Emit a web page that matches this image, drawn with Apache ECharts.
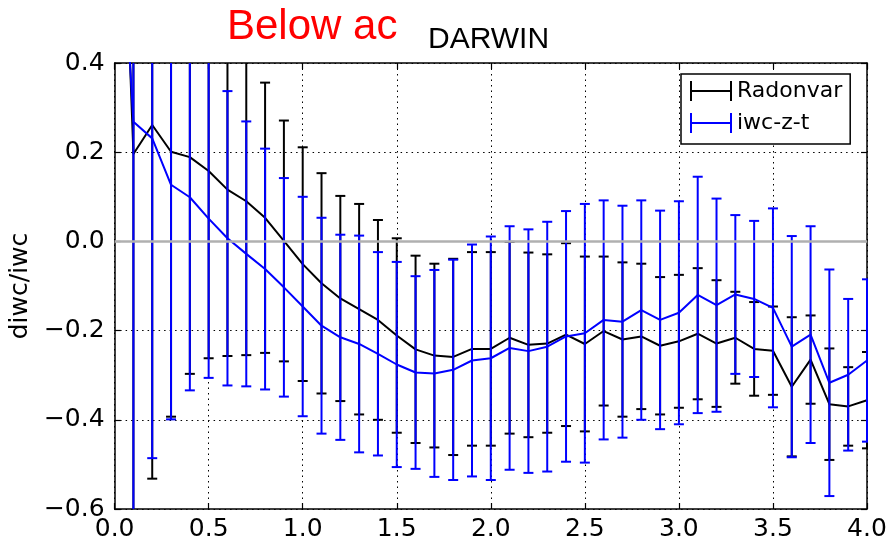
<!DOCTYPE html>
<html>
<head>
<meta charset="utf-8">
<script src="https://cdn.jsdelivr.net/npm/echarts@6/dist/echarts.min.js"></script>
<style>
  html, body { margin: 0; padding: 0; background: #fff; }
  #chart { width: 891px; height: 542px; }
</style>
</head>
<body>
<div id="chart"></div>
<script>
// x positions (first one at 0 sits far above the plot)
var xs = [0, 0.1, 0.2, 0.3, 0.4, 0.5, 0.6, 0.7, 0.8, 0.9, 1.0,
          1.1, 1.2, 1.3, 1.4, 1.5, 1.6, 1.7, 1.8, 1.9, 2.0,
          2.1, 2.2, 2.3, 2.4, 2.5, 2.6, 2.7, 2.8, 2.9, 3.0,
          3.1, 3.2, 3.3, 3.4, 3.5, 3.6, 3.7, 3.8, 3.9, 4.0];

var radonvar = [1.33, 0.196, 0.261, 0.201, 0.189, 0.158, 0.116, 0.090, 0.053, 0.001, -0.051,
                -0.094, -0.128, -0.152, -0.176, -0.211, -0.242, -0.256, -0.259, -0.241, -0.241,
                -0.216, -0.232, -0.229, -0.209, -0.230, -0.201, -0.220, -0.213, -0.234, -0.224,
                -0.207, -0.229, -0.216, -0.241, -0.245, -0.326, -0.265, -0.365, -0.370, -0.356];
var radonvarErr = [null, 0.9, 0.793, 0.594, 0.486, 0.42, 0.373, 0.345, 0.303, 0.27, 0.262,
                   0.247, 0.23, 0.236, 0.224, 0.218, 0.21, 0.206, 0.22, 0.217, 0.217,
                   0.215, 0.207, 0.2, 0.205, 0.196, 0.167, 0.173, 0.163, 0.154, 0.149,
                   0.147, 0.142, 0.103, 0.105, 0.099, 0.156, 0.099, 0.125, 0.088, 0.108];

var iwc = [1.0, 0.268, 0.231, 0.127, 0.099, 0.051, 0.007, -0.028, -0.062, -0.103, -0.146,
           -0.189, -0.215, -0.230, -0.252, -0.276, -0.294, -0.296, -0.288, -0.267, -0.262,
           -0.239, -0.246, -0.236, -0.213, -0.206, -0.176, -0.180, -0.154, -0.176, -0.160,
           -0.120, -0.143, -0.119, -0.129, -0.149, -0.236, -0.209, -0.317, -0.299, -0.267];
var iwcErr = [null, 1.0, 0.717, 0.526, 0.433, 0.357, 0.33, 0.297, 0.27, 0.245, 0.246,
              0.242, 0.23, 0.243, 0.228, 0.23, 0.216, 0.232, 0.247, 0.26, 0.273,
              0.273, 0.273, 0.28, 0.281, 0.29, 0.268, 0.26, 0.246, 0.245, 0.25,
              0.265, 0.239, 0.178, 0.175, 0.223, 0.248, 0.243, 0.254, 0.17, 0.182];

var xTicks = ['0.0', '0.5', '1.0', '1.5', '2.0', '2.5', '3.0', '3.5', '4.0'];

var TICK_FONT = 'DejaVu Sans';

function pairs(vals) {
  return xs.map(function (x, i) { return [x, vals[i]]; });
}
function errRows(vals, errs) {
  var out = [];
  xs.forEach(function (x, i) {
    if (errs[i] == null) return;
    out.push([x, vals[i] - errs[i], vals[i] + errs[i]]);
  });
  return out;
}

// vertical bar + two caps
function errorBar(color) {
  return function (params, api) {
    var lo = api.coord([api.value(0), api.value(1)]);
    var hi = api.coord([api.value(0), api.value(2)]);
    var hw = 5;
    var st = { stroke: color, lineWidth: 2 };
    return {
      type: 'group',
      children: [
        { type: 'line', shape: { x1: lo[0], y1: lo[1], x2: hi[0], y2: hi[1] }, style: st },
        { type: 'line', shape: { x1: lo[0] - hw, y1: lo[1], x2: lo[0] + hw, y2: lo[1] }, style: st },
        { type: 'line', shape: { x1: hi[0] - hw, y1: hi[1], x2: hi[0] + hw, y2: hi[1] }, style: st }
      ]
    };
  };
}

function yFmt(v) {
  var s = Math.abs(v) < 1e-9 ? '0.0' : v.toFixed(1);
  return s.replace('-', '\u2212');
}
function xFmt(v) {
  return xTicks[Math.round(v / 0.5)];
}

var frameLine = { show: true, onZero: false, lineStyle: { color: '#000', width: 1.5 } };
var innerTick = { show: true, inside: true, length: 6, lineStyle: { color: '#000', width: 1.2 } };
var dotted = { show: true, lineStyle: { color: '#000', width: 1, type: [1.5, 4] } };

var H_ICON = 'path://M0,0h2v20h-2z M0,9h42v2h-42z M40,0h2v20h-2z';

var chart = echarts.init(document.getElementById('chart'));
chart.setOption({
  animation: false,
  backgroundColor: '#fff',
  grid: { left: 110, right: 24, top: 63, bottom: 31, containLabel: false },
  graphic: [
    { type: 'text', left: 227, top: 6,
      style: { text: 'Below ac', fill: '#ff0000', font: '42px "Liberation Sans"' } },
    { type: 'text', left: 428, top: 25,
      style: { text: 'DARWIN', fill: '#000', font: '30px "Liberation Sans"' } }
  ],
  legend: {
    left: 681, top: 74,
    orient: 'vertical',
    backgroundColor: '#fff',
    borderColor: '#000', borderWidth: 1.5, borderRadius: 0,
    padding: [6, 8, 10, 9],
    itemGap: 10, itemWidth: 42, itemHeight: 20, itemTextGap: 20,
    textStyle: { fontFamily: TICK_FONT, fontSize: 22, color: '#000' },
    data: [
      { name: 'Radonvar', icon: H_ICON },
      { name: 'iwc-z-t', icon: H_ICON }
    ]
  },
  xAxis: [
    {
      type: 'value', min: 0, max: 4, interval: 0.5,
      axisLine: frameLine, axisTick: innerTick, splitLine: dotted,
      axisLabel: { formatter: xFmt, color: '#000', fontFamily: TICK_FONT, fontSize: 25, margin: 8 }
    },
    {
      type: 'value', position: 'top', min: 0, max: 4, interval: 0.5,
      axisLine: frameLine, axisTick: innerTick, splitLine: { show: false }, axisLabel: { show: false }
    }
  ],
  yAxis: [
    {
      type: 'value', min: -0.6, max: 0.4, interval: 0.2,
      name: 'diwc/iwc', nameLocation: 'middle', nameGap: 80,
      nameTextStyle: { fontFamily: TICK_FONT, fontSize: 25, color: '#000' },
      axisLine: frameLine, axisTick: innerTick, splitLine: dotted,
      axisLabel: { formatter: yFmt, color: '#000', fontFamily: TICK_FONT, fontSize: 25, margin: 10 }
    },
    {
      type: 'value', position: 'right', min: -0.6, max: 0.4, interval: 0.2,
      axisLine: frameLine, axisTick: innerTick, splitLine: { show: false }, axisLabel: { show: false }
    }
  ],
  series: [
    {
      name: 'zero', type: 'line', data: [], z: 1,
      markLine: {
        silent: true, symbol: 'none', label: { show: false },
        lineStyle: { color: '#b0b0b0', width: 2.5, type: 'solid' },
        data: [{ yAxis: 0 }]
      }
    },
    {
      name: 'Radonvar', type: 'line', data: pairs(radonvar), z: 2,
      color: '#000', symbol: 'none', clip: true,
      lineStyle: { color: '#000', width: 2 }
    },
    {
      name: 'Radonvar err', type: 'custom', data: errRows(radonvar, radonvarErr), z: 2,
      clip: true, renderItem: errorBar('#000'), encode: { x: 0, y: [1, 2] }
    },
    {
      name: 'iwc-z-t', type: 'line', data: pairs(iwc), z: 3,
      color: '#0000ff', symbol: 'none', clip: true,
      lineStyle: { color: '#0000ff', width: 2 }
    },
    {
      name: 'iwc err', type: 'custom', data: errRows(iwc, iwcErr), z: 3,
      clip: true, renderItem: errorBar('#0000ff'), encode: { x: 0, y: [1, 2] }
    }
  ]
});
</script>
</body>
</html>
